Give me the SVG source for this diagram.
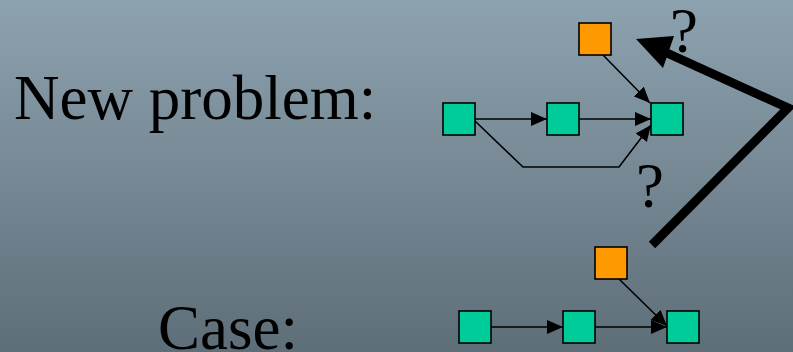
<svg xmlns="http://www.w3.org/2000/svg" width="793" height="352" viewBox="0 0 793 352">
<defs>
<linearGradient id="bg" x1="0" y1="0" x2="0" y2="1">
<stop offset="0" stop-color="#8DA2AF"/>
<stop offset="1" stop-color="#5E6E79"/>
</linearGradient>
<marker id="ah" markerUnits="userSpaceOnUse" markerWidth="16" markerHeight="14" viewBox="0 0 16 14" refX="16" refY="7" orient="auto">
<path d="M0,0 L16,7 L0,14 Z" fill="#000"/>
</marker>
</defs>
<style>
.g{fill:#00CC99;stroke:#000;stroke-width:1.6}
.o{fill:#FF9900;stroke:#000;stroke-width:1.6}
.e{fill:none;stroke:#000;stroke-width:1.6;marker-end:url(#ah)}
</style>
<rect x="0" y="0" width="793" height="352" fill="url(#bg)"/>
<g font-family="Liberation Serif, Times New Roman, DejaVu Serif, serif" font-size="63" fill="#000">
<text x="14" y="119">New problem:</text>
<text x="158" y="349">Case:</text>
</g>
<g id="connectors">
<path class="e" d="M475,119 L547,119"/>
<path class="e" d="M579,119 L651,119"/>
<path class="e" d="M475,121 L523,167 L619,167 L651,125"/>
<path class="e" d="M603,55 L650,103"/>
<path class="e" d="M491,327 L563,327"/>
<path class="e" d="M595,327 L667,327"/>
<path class="e" d="M619,279 L667,326"/>
<g id="big-arrow">
<polyline points="652,245 788,108 667,53" fill="none" stroke="#000" stroke-width="9" stroke-linejoin="miter"/>
<polygon points="636,39 674,36 663,68" fill="#000"/>
</g>
</g>
<g id="p-orange"><rect class="o" x="579" y="23" width="32" height="32"/></g>
<g id="p-g1"><rect class="g" x="443" y="103" width="32" height="32"/></g>
<g id="p-g2"><rect class="g" x="547" y="103" width="32" height="32"/></g>
<g id="p-g3"><rect class="g" x="651" y="103" width="32" height="32"/></g>
<g id="c-orange"><rect class="o" x="595" y="247" width="32" height="32"/></g>
<g id="c-g1"><rect class="g" x="459" y="311" width="32" height="32"/></g>
<g id="c-g2"><rect class="g" x="563" y="311" width="32" height="32"/></g>
<g id="c-g3"><rect class="g" x="667" y="311" width="32" height="32"/></g>
<g font-family="Liberation Serif, Times New Roman, DejaVu Serif, serif" font-size="63" fill="#000">
<text x="670" y="52">?</text>
<text x="636" y="207">?</text>
</g>
</svg>
